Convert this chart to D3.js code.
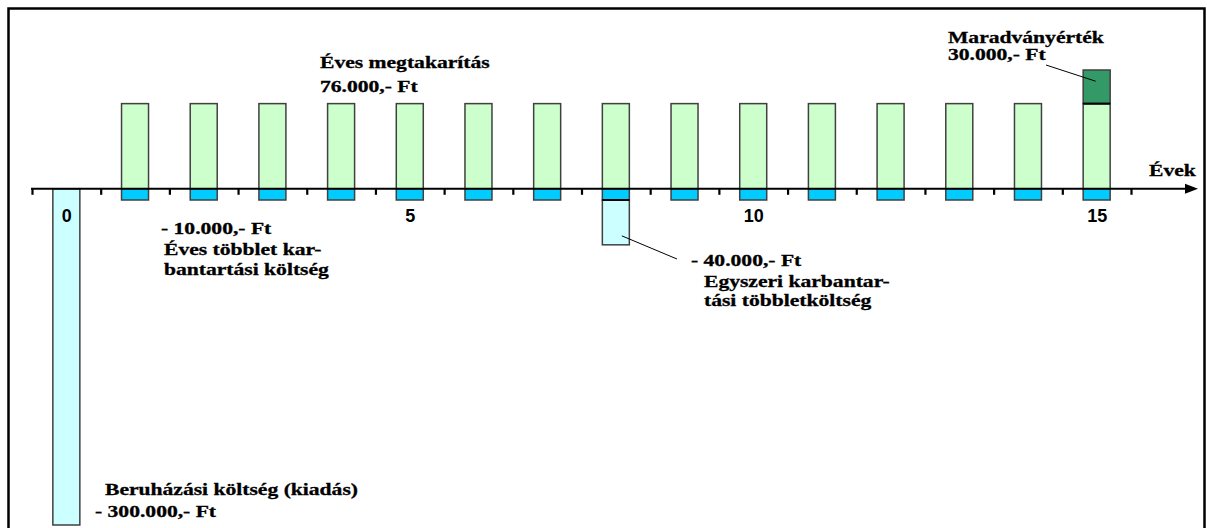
<!DOCTYPE html>
<html>
<head>
<meta charset="utf-8">
<script src="https://cdn.jsdelivr.net/npm/d3@7"></script>
<style>
  html, body { margin: 0; padding: 0; background: #ffffff; }
  svg { display: block; }
</style>
</head>
<body>
<svg id="chart" width="1207" height="528"></svg>
<script>
// Cash flow of the investment per year (Ft)
const years       = [0, 1, 2, 3, 4, 5, 6, 7, 8, 9, 10, 11, 12, 13, 14, 15];
const savings     = [0, 76000, 76000, 76000, 76000, 76000, 76000, 76000, 76000, 76000, 76000, 76000, 76000, 76000, 76000, 76000];
const maintenance = [0, -10000, -10000, -10000, -10000, -10000, -10000, -10000, -10000, -10000, -10000, -10000, -10000, -10000, -10000, -10000];
const extraCost   = [-300000, 0, 0, 0, 0, 0, 0, 0, -40000, 0, 0, 0, 0, 0, 0, 0];
const residual    = [0, 0, 0, 0, 0, 0, 0, 0, 0, 0, 0, 0, 0, 0, 0, 30000];

// Axis labels
const tickYears  = [0, 5, 10, 15];
const tickLabels = ["0", "5", "10", "15"];
const axisTitle  = "Évek";

// Annotation texts
const savingsText     = ["Éves megtakarítás", "76.000,- Ft"];
const residualText    = ["Maradványérték", "30.000,- Ft"];
const maintenanceText = ["- 10.000,- Ft", "Éves többlet kar-", "bantartási költség"];
const oneOffText      = ["- 40.000,- Ft", "Egyszeri karbantar-", "tási többletköltség"];
const investText      = ["Beruházási költség (kiadás)", "- 300.000,- Ft"];

const svg = d3.select("#chart");

const x = d3.scaleLinear().domain([-0.5, 15.5]).range([32, 1131]);
const y = d3.scaleLinear().domain([-300000, 106000]).range([525, 70]);
const barW = 27;

const colors = {
  savings: "#ccffcc",
  maintenance: "#00ccff",
  extra: "#ccffff",
  residual: "#339966",
  stroke: "#404040"
};

// outer frame
svg.append("rect")
  .attr("x", 8.5).attr("y", 8.5)
  .attr("width", 1196).attr("height", 560)
  .attr("fill", "none").attr("stroke", "#000").attr("stroke-width", 2.5);

const rows = years.map((yr, i) => ({
  yr, sav: savings[i], maint: maintenance[i], extra: extraCost[i], res: residual[i]
}));

const g = svg.append("g");

function bars(data, y0, y1, fill) {
  g.selectAll(null).data(data).join("rect")
    .attr("x", d => x(d.yr) - barW / 2)
    .attr("width", barW)
    .attr("y", d => Math.min(y(y0(d)), y(y1(d))))
    .attr("height", d => Math.abs(y(y1(d)) - y(y0(d))))
    .attr("fill", fill)
    .attr("stroke", colors.stroke)
    .attr("stroke-width", 1.5);
}

// annual savings
bars(rows.filter(d => d.sav !== 0), () => 0, d => d.sav, colors.savings);
// residual value on top of the savings
const resRows = rows.filter(d => d.res !== 0);
bars(resRows, d => d.sav, d => d.sav + d.res, colors.residual);
// annual extra maintenance
bars(rows.filter(d => d.maint !== 0), () => 0, d => d.maint, colors.maintenance);
// investment and one-off maintenance, below the annual maintenance
const extraRows = rows.filter(d => d.extra !== 0);
bars(extraRows, d => d.maint, d => d.maint + d.extra, colors.extra);

// divider lines between stacked parts
g.selectAll(null).data(resRows).join("line")
  .attr("x1", d => x(d.yr) - barW / 2).attr("x2", d => x(d.yr) + barW / 2)
  .attr("y1", d => y(d.sav)).attr("y2", d => y(d.sav))
  .attr("stroke", "#000").attr("stroke-width", 2);
g.selectAll(null).data(extraRows.filter(d => d.maint !== 0)).join("line")
  .attr("x1", d => x(d.yr) - barW / 2).attr("x2", d => x(d.yr) + barW / 2)
  .attr("y1", d => y(d.maint)).attr("y2", d => y(d.maint))
  .attr("stroke", "#000").attr("stroke-width", 2);

// horizontal time axis with tick marks between the years
const y0 = y(0);
const tickPos = d3.range(-0.5, 16, 1);
const axisG = svg.append("g").attr("transform", `translate(0,${y0})`)
  .call(d3.axisBottom(x).tickValues(tickPos).tickSize(6).tickFormat(""));
axisG.select(".domain").remove();
axisG.selectAll(".tick line").attr("stroke", "#000").attr("stroke-width", 2.2);

svg.append("line")
  .attr("x1", x(-0.5) - 1).attr("x2", 1188)
  .attr("y1", y0).attr("y2", y0)
  .attr("stroke", "#000").attr("stroke-width", 2);
svg.append("path")
  .attr("d", `M1185,${y0 - 5}L1198,${y0}L1185,${y0 + 5}Z`)
  .attr("fill", "#000");

// year labels
const labG = svg.append("g").attr("transform", `translate(0,${y0})`)
  .call(d3.axisBottom(x).tickValues(tickYears)
    .tickFormat((d, i) => tickLabels[i]).tickSize(0).tickPadding(20.5));
labG.select(".domain").remove();
labG.selectAll("text")
  .attr("font-family", "'Liberation Sans', Arial, sans-serif")
  .attr("font-weight", "bold").attr("font-size", 18).attr("fill", "#000");

// serif annotation text, widened
function textBlock(lines, xs, ys) {
  lines.forEach((t, i) => {
    svg.append("text")
      .attr("transform", `translate(${xs[i]},${ys[i]}) scale(1.27,1)`)
      .attr("font-family", "'Liberation Serif', 'Times New Roman', serif")
      .attr("font-weight", "bold")
      .attr("font-size", 17)
      .attr("fill", "#000")
      .attr("stroke", "#000")
      .attr("stroke-width", 0.3)
      .text(t);
  });
}

textBlock(savingsText, [320, 320], [68, 92]);
textBlock(residualText, [948, 948], [43, 60]);
textBlock([axisTitle], [1149], [176]);
textBlock(maintenanceText, [161, 164, 164], [234, 255, 275]);
textBlock(oneOffText, [691, 704, 704], [266, 287, 306]);
textBlock(investText, [105, 95], [495, 517]);

// leader lines
svg.append("line")
  .attr("x1", x(8) + 6).attr("y1", y(-42000))
  .attr("x2", 677).attr("y2", 259)
  .attr("stroke", "#000").attr("stroke-width", 1);
svg.append("line")
  .attr("x1", 1046).attr("y1", 65)
  .attr("x2", x(15) - 1).attr("y2", y(96000))
  .attr("stroke", "#000").attr("stroke-width", 1);
</script>
</body>
</html>
